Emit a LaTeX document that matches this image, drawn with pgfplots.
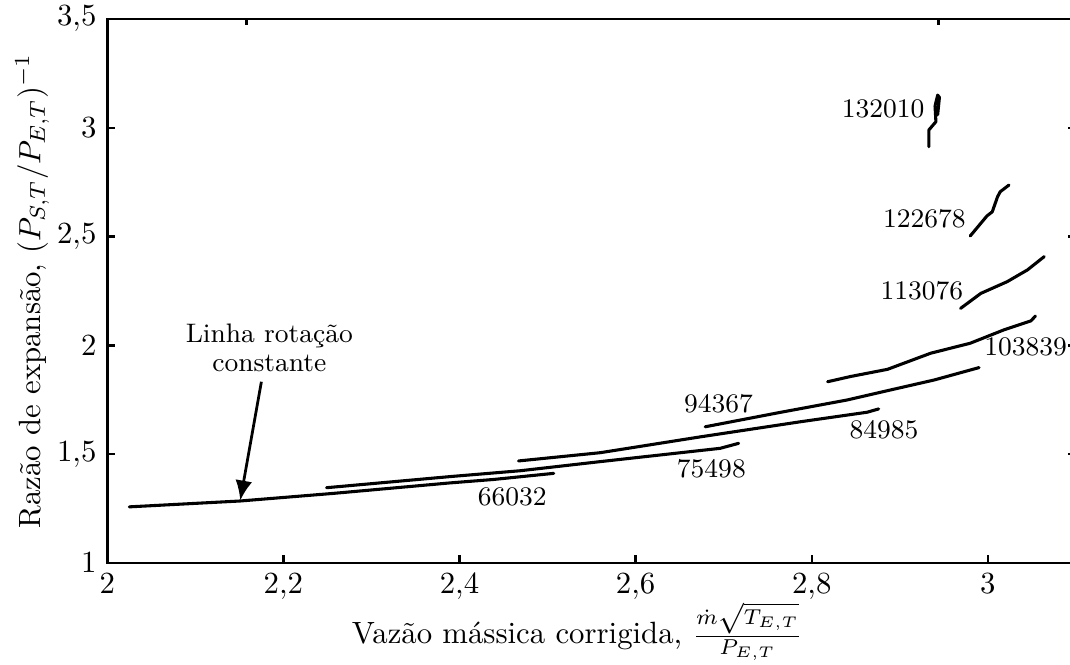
\documentclass[border=0pt]{standalone}
\usepackage{pgfplots}
\pgfplotsset{compat=1.18}
\usetikzlibrary{arrows.meta}
\begin{document}
\begin{tikzpicture}[
  lbl/.style={font=\fontsize{8.7}{10}\selectfont, inner sep=0pt},
  spd/.style={black, line width=1pt, line join=round, line cap=round, mark=none},
]
\begin{axis}[
  scale only axis,
  width=314.8pt, height=176.8pt,
  xmin=2, xmax=3.1, ymin=1, ymax=3.5,
  xtick={2,2.2,2.4,2.6,2.8,3},
  ytick={1,1.5,2,2.5,3,3.5},
  xtick pos=left,
  axis line style={line width=0.8pt},
  major tick style={line width=0.8pt, black},
  major tick length=2.5pt,
  /pgf/number format/use comma,
  xlabel={Vazão mássica corrigida, $\frac{\dot m\sqrt{T_{E,T}}}{P_{E,T}}$},
  ylabel={Razão de expansão, $(P_{S,T}/P_{E,T})^{-1}$},
  xlabel style={at={(axis description cs:0.485,-0.126)}, anchor=center},
  ylabel style={at={(axis description cs:-0.0775,0.5)}, anchor=center},
]
% constant-speed lines (rpm)
\addplot[spd] coordinates {(2.025,1.258) (2.151,1.285) (2.257,1.320) (2.389,1.368) (2.439,1.384) (2.507,1.412)};
\addplot[spd] coordinates {(2.249,1.346) (2.389,1.397) (2.469,1.424) (2.560,1.466) (2.696,1.527) (2.717,1.550)};
\addplot[spd] coordinates {(2.467,1.469) (2.560,1.507) (2.674,1.580) (2.787,1.649) (2.863,1.693) (2.876,1.708)};
\addplot[spd] coordinates {(2.679,1.626) (2.764,1.692) (2.840,1.749) (2.886,1.792) (2.939,1.841) (2.990,1.898)};
\addplot[spd] coordinates {(2.818,1.833) (2.844,1.857) (2.886,1.890) (2.935,1.964) (2.980,2.010) (3.018,2.071) (3.049,2.113) (3.054,2.135)};
\addplot[spd] coordinates {(2.969,2.170) (2.992,2.239) (3.022,2.293) (3.045,2.347) (3.064,2.408)};
\addplot[spd] coordinates {(2.980,2.503) (2.999,2.595) (3.005,2.614) (3.011,2.683) (3.014,2.706) (3.024,2.737)};
\addplot[spd] coordinates {(2.933,2.913) (2.933,2.990) (2.941,3.028) (2.940,3.100) (2.943,3.150) (2.945,3.140) (2.943,3.060)};

\node[lbl] at (axis cs:2.460,1.302) {66032};
\node[lbl] at (axis cs:2.686,1.432) {75498};
\node[lbl] at (axis cs:2.882,1.611) {84985};
\node[lbl] at (axis cs:2.694,1.731) {94367};
\node[lbl] at (axis cs:3.043,1.991) {103839};
\node[lbl] at (axis cs:2.925,2.251) {113076};
\node[lbl] at (axis cs:2.928,2.584) {122678};
\node[lbl] at (axis cs:2.881,3.085) {132010};

\node[align=center, font=\fontsize{8.7}{9.4}\selectfont] at (axis cs:2.184,1.990) {Linha rotação\\constante};
\draw[line width=0.9pt, -{Latex[length=6.5pt,width=5.5pt]}] (axis cs:2.175,1.833) -- (axis cs:2.151,1.287);

% short marks on the upper edge
\draw[line width=0.8pt] (axis cs:2.158,3.5) -- ++(0pt,-2pt);
\draw[line width=0.8pt] (axis cs:2.944,3.5) -- ++(0pt,-2pt);
\end{axis}
\pgfresetboundingbox
\useasboundingbox (-34.87pt,-32.83pt) rectangle (312.88pt,182.98pt);
\end{tikzpicture}
\end{document}
